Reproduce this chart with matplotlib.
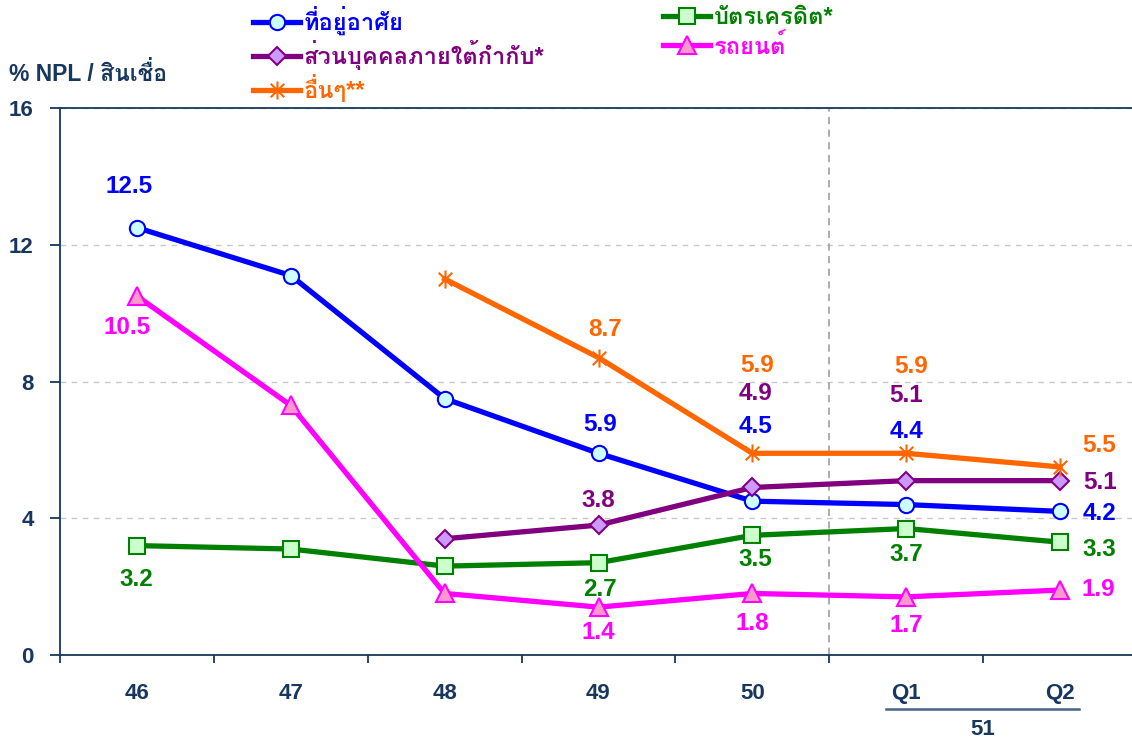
import matplotlib
matplotlib.use('Agg')
import matplotlib.pyplot as plt
from matplotlib.path import Path
import numpy as np

# ข้อมูล NPL ต่อสินเชื่อ (%)
periods = ['46', '47', '48', '49', '50', 'Q1', 'Q2']
group_label = '51'
housing = [12.5, 11.1, 7.5, 5.9, 4.5, 4.4, 4.2]
credit_card = [3.2, 3.1, 2.6, 2.7, 3.5, 3.7, 3.3]
personal = [np.nan, np.nan, 3.4, 3.8, 4.9, 5.1, 5.1]
car = [10.5, 7.3, 1.8, 1.4, 1.8, 1.7, 1.9]
others = [np.nan, np.nan, 11.0, 8.7, 5.9, 5.9, 5.5]

names = ['ที่อยู่อาศัย', 'ส่วนบุคคลภายใต้กำกับ*', 'อื่นๆ**', 'บัตรเครดิต*', 'รถยนต์']
# which points get a value label
show_housing = [1, 0, 0, 1, 1, 1, 1]
show_credit = [1, 0, 0, 1, 1, 1, 1]
show_personal = [0, 0, 0, 1, 1, 1, 1]
show_car = [1, 0, 0, 1, 1, 1, 1]
show_others = [0, 0, 0, 1, 1, 1, 1]

FONT = ['Liberation Sans', 'Loma', 'Noto Sans Thai Looped', 'DejaVu Sans']
NAVY = '#17375E'
plt.rcParams['font.family'] = FONT
plt.rcParams['font.weight'] = 'bold'

# ดาว (X + เส้นตั้ง) แบบ Excel
star = Path([(0, -1), (0, 1), (-0.75, -0.75), (0.75, 0.75), (-0.75, 0.75), (0.75, -0.75)],
            [Path.MOVETO, Path.LINETO, Path.MOVETO, Path.LINETO, Path.MOVETO, Path.LINETO])

fig = plt.figure(figsize=(11.32, 7.42), dpi=100)
ax = fig.add_axes([60 / 1132, 1 - 655 / 742, 1077 / 1132, 547 / 742])

x = np.arange(len(periods))
series = [
    (housing, names[0], '#0000FF', 'o', '#CCFFFF', 11, show_housing,
     [(-8, 41), None, None, (2, 29), (3, 75), (0, 73), (39, -2)]),
    (personal, names[1], '#800080', 'D', '#CC99FF', 9, show_personal,
     [None, None, None, (0, 25), (3, 94), (0, 85), (40, -2)]),
    (others, names[2], '#FF6600', star, '#FF6600', 13, show_others,
     [None, None, None, (7, 28), (5, 88), (5, 87), (39, 21)]),
    (credit_card, names[3], '#008000', 's', '#CCFFCC', 11, show_credit,
     [(-1, -34), None, None, (1, -27), (3, -24), (0, -26), (39, -7)]),
    (car, names[4], '#FF00FF', '^', '#FF99CC', 13, show_car,
     [(-10, -31), None, None, (0, -25), (0, -30), (0, -29), (38, 1)]),
]

handles = []
for vals, name, color, marker, fill, ms, show, offs in series:
    ln, = ax.plot(x, vals, color=color, lw=3.8, marker=marker, markersize=ms,
                  markerfacecolor=fill, markeredgecolor=color, markeredgewidth=1.5,
                  label=name, zorder=3, clip_on=False)
    handles.append(ln)
    for i, v in enumerate(vals):
        if show[i] and offs[i] is not None and not np.isnan(v):
            ax.annotate(f'{v:.1f}', (x[i], v), xytext=offs[i], textcoords='offset pixels',
                        ha='center', va='center', color=color, fontsize=17.5, fontweight='bold')

ax.set_xlim(-0.5, len(periods) - 0.5)
ax.set_ylim(0, 16)
ax.set_yticks([0, 4, 8, 12, 16])
ax.set_xticks(x)
ax.set_xticklabels(periods)
ax.set_xticks(np.arange(-0.5, len(periods)), minor=True)
ax.tick_params(axis='x', which='major', length=0, pad=20, labelsize=16, labelcolor=NAVY)
ax.tick_params(axis='x', which='minor', length=6, width=1.3, color=NAVY, direction='out')
ax.tick_params(axis='y', length=7, width=1.3, color=NAVY, pad=12, labelsize=16, labelcolor=NAVY)
for lbl in ax.get_xticklabels() + ax.get_yticklabels():
    lbl.set_fontweight('bold')

for s in ['left', 'bottom', 'top']:
    ax.spines[s].set_color(NAVY)
    ax.spines[s].set_linewidth(1.3)
ax.spines['right'].set_visible(False)

ax.grid(axis='y', color='#C8C8C8', linestyle=(0, (4, 4)), linewidth=1)
ax.set_axisbelow(True)
ax.axvline(4.5, color='#A6A6A6', linestyle=(0, (4, 3)), linewidth=1.3, zorder=1)

# ปี 51 ใต้ Q1/Q2
trans = ax.get_xaxis_transform()
ax.plot([4.87, 6.12], [-0.099, -0.099], color='#4A6485', lw=1.8, transform=trans, clip_on=False)
ax.text(5.5, -0.137, group_label, transform=trans, ha='center', va='center',
        fontsize=16, fontweight='bold', color=NAVY)

fig.text(9 / 1132, 1 - 74 / 742, '% NPL / สินเชื่อ', ha='left', va='center',
         fontsize=16.5, fontweight='bold', color=NAVY)

# legend สองคอลัมน์
leg_kw = dict(loc='upper left', frameon=False, fontsize=17, handlelength=2.0,
              handletextpad=0.15, labelspacing=0.2, borderpad=0, borderaxespad=0)
leg1 = fig.legend(handles=handles[:3], bbox_to_anchor=(253 / 1132, 1 - 6 / 742), **leg_kw)
leg2 = fig.legend(handles=handles[3:], bbox_to_anchor=(663 / 1132, 1 - 6 / 742), **leg_kw)
for leg in (leg1, leg2):
    for t, h in zip(leg.get_texts(), leg.legend_handles):
        t.set_color(h.get_color())
        t.set_fontweight('bold')

fig.savefig('out.png', dpi=100)
